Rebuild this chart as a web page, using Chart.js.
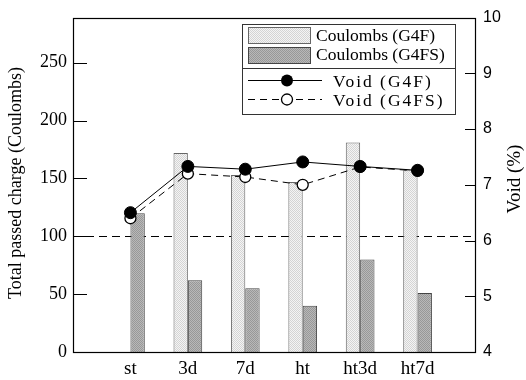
<!DOCTYPE html>
<html>
<head>
<meta charset="utf-8">
<script src="https://cdn.jsdelivr.net/npm/chart.js@4/dist/chart.umd.min.js"></script>
<style>
  html, body { margin: 0; padding: 0; background: #fff; }
  #wrap { width: 526px; height: 380px; position: relative; }
</style>
</head>
<body>
<div id="wrap"><canvas id="c" width="526" height="380"></canvas></div>
<script>
// Mixes: passed charge (bars, left axis) and void content (lines, right axis)
const categories = ['', 'st', '3d', '7d', 'ht', 'ht3d', 'ht7d', ''];
const coulombsG4F = [null, null, 172, 153, 147, 181, 157, null];
const coulombsG4FS = [null, 120, 62, 55, 40, 80, 51, null];
const voidG4F = [null, 6.5, 7.33, 7.28, 7.41, 7.33, 7.26, null];
const voidG4FS = [null, 6.4, 7.2, 7.14, 7.0, 7.32, 7.25, null];
const chargeTicks = [0, 50, 100, 150, 200, 250];
const voidTicks = [4, 5, 6, 7, 8, 9, 10];
const chargeMax = 289;
const referenceCharge = 100;

const SERIF = '"Liberation Serif", "Times New Roman", serif';
const SANS = '"Liberation Sans", Arial, sans-serif';

function makePattern(base, dot) {
  const p = document.createElement('canvas');
  p.width = 2; p.height = 2;
  const g = p.getContext('2d');
  g.fillStyle = base; g.fillRect(0, 0, 2, 2);
  g.fillStyle = dot; g.fillRect(0, 0, 1, 1); g.fillRect(1, 1, 1, 1);
  return document.getElementById('c').getContext('2d').createPattern(p, 'repeat');
}
const lightFill = makePattern('#f4f4f4', '#d4d4d4');
const darkFill = makePattern('#b8b8b8', '#989898');

// Frame, inward tick marks, reference line and axis titles
const decorations = {
  id: 'decorations',
  beforeDatasetsDraw(chart) {
    const { ctx, chartArea: a, scales } = chart;
    ctx.save();
    const y100 = Math.round(scales.y.getPixelForValue(referenceCharge)) + 0.5;
    ctx.strokeStyle = '#000';
    ctx.lineWidth = 1;
    ctx.setLineDash([8, 5]);
    ctx.beginPath(); ctx.moveTo(a.left, y100); ctx.lineTo(a.right, y100); ctx.stroke();
    ctx.restore();
  },
  afterDraw(chart) {
    const { ctx, chartArea: a, scales } = chart;
    ctx.save();
    ctx.strokeStyle = '#000';
    ctx.lineWidth = 1.2;
    ctx.strokeRect(Math.round(a.left) + 0.5, Math.round(a.top) + 0.5,
                   Math.round(a.right - a.left), Math.round(a.bottom - a.top));
    ctx.beginPath();
    chargeTicks.forEach(v => {
      const y = Math.round(scales.y.getPixelForValue(v)) + 0.5;
      ctx.moveTo(a.left, y); ctx.lineTo(a.left + 14, y);
    });
    voidTicks.forEach(v => {
      const y = Math.round(scales.yR.getPixelForValue(v)) + 0.5;
      ctx.moveTo(a.right, y); ctx.lineTo(a.right - 10, y);
    });
    ctx.stroke();

    ctx.fillStyle = '#000';
    ctx.textAlign = 'center';
    ctx.textBaseline = 'middle';
    ctx.font = '18px ' + SERIF;
    ctx.save();
    ctx.translate(16, 183); ctx.rotate(-Math.PI / 2);
    ctx.fillText('Total passed charge (Coulombs)', 0, 0);
    ctx.restore();
    ctx.save();
    ctx.font = '19px ' + SERIF;
    ctx.translate(515, 179); ctx.rotate(-Math.PI / 2);
    ctx.fillText('Void (%)', 0, 0);
    ctx.restore();

    // legend box
    const L = 242, T = 24, R = 455, B = 114, mid = 68;
    ctx.fillStyle = '#fff';
    ctx.fillRect(L, T, R - L, B - T);
    ctx.strokeStyle = '#333';
    ctx.lineWidth = 1;
    ctx.strokeRect(L + 0.5, T + 0.5, R - L, B - T);
    ctx.beginPath(); ctx.moveTo(L, mid + 0.5); ctx.lineTo(R, mid + 0.5); ctx.stroke();

    ctx.fillStyle = lightFill; ctx.fillRect(248, 27, 62, 16);
    ctx.strokeStyle = '#666'; ctx.strokeRect(248.5, 27.5, 62, 16);
    ctx.fillStyle = darkFill; ctx.fillRect(248, 47, 62, 16);
    ctx.strokeStyle = '#444'; ctx.strokeRect(248.5, 47.5, 62, 16);

    ctx.fillStyle = '#000';
    ctx.textAlign = 'left';
    ctx.textBaseline = 'alphabetic';
    ctx.font = '17.5px ' + SERIF;
    ctx.fillText('Coulombs (G4F)', 316, 41);
    ctx.fillText('Coulombs (G4FS)', 316, 60);

    ctx.strokeStyle = '#000';
    ctx.lineWidth = 1;
    ctx.beginPath(); ctx.moveTo(248, 80.5); ctx.lineTo(322, 80.5); ctx.stroke();
    ctx.beginPath(); ctx.arc(287, 80.5, 6, 0, Math.PI * 2); ctx.fillStyle = '#000'; ctx.fill();

    ctx.setLineDash([7, 5]);
    ctx.beginPath(); ctx.moveTo(248, 99.5); ctx.lineTo(322, 99.5); ctx.stroke();
    ctx.setLineDash([]);
    ctx.beginPath(); ctx.arc(287, 99.5, 5.5, 0, Math.PI * 2);
    ctx.fillStyle = '#fff'; ctx.fill(); ctx.lineWidth = 1.3; ctx.stroke();

    ctx.fillStyle = '#000';
    ctx.letterSpacing = '2px';
    ctx.fillText('Void (G4F)', 333, 87);
    ctx.fillText('Void (G4FS)', 333, 106);
    ctx.restore();
  }
};

new Chart(document.getElementById('c'), {
  data: {
    labels: categories,
    datasets: [
      {
        type: 'line', label: 'Void (G4F)', data: voidG4F, yAxisID: 'yR', order: 1,
        borderColor: '#000', borderWidth: 1, tension: 0,
        pointRadius: 6, pointBackgroundColor: '#000', pointBorderColor: '#000', pointBorderWidth: 1
      },
      {
        type: 'line', label: 'Void (G4FS)', data: voidG4FS, yAxisID: 'yR', order: 2,
        borderColor: '#000', borderWidth: 1, borderDash: [7, 5], tension: 0,
        pointRadius: 5.5, pointBackgroundColor: '#fff', pointBorderColor: '#000', pointBorderWidth: 1.3
      },
      {
        type: 'bar', label: 'Coulombs (G4F)', data: coulombsG4F, yAxisID: 'y', order: 3,
        backgroundColor: lightFill, borderColor: '#666', borderWidth: 1,
        categoryPercentage: 0.5, barPercentage: 1.0
      },
      {
        type: 'bar', label: 'Coulombs (G4FS)', data: coulombsG4FS, yAxisID: 'y', order: 3,
        backgroundColor: darkFill, borderColor: '#444', borderWidth: 1,
        categoryPercentage: 0.5, barPercentage: 1.0
      }
    ]
  },
  options: {
    responsive: false,
    animation: false,
    events: [],
    layout: { padding: { top: 12, left: 0, right: 0, bottom: 0 } },
    plugins: { legend: { display: false }, tooltip: { enabled: false } },
    scales: {
      x: {
        type: 'category',
        offset: false,
        grid: { display: false, drawTicks: false },
        border: { display: false },
        ticks: { color: '#000', font: { family: SERIF, size: 19 }, padding: 6,
                 autoSkip: false, maxRotation: 0, minRotation: 0 },
        afterFit(s) { s.height = 28; }
      },
      y: {
        position: 'left',
        min: 0, max: chargeMax,
        grid: { display: false, drawTicks: false },
        border: { display: false },
        afterBuildTicks(s) { s.ticks = chargeTicks.map(v => ({ value: v })); },
        ticks: { color: '#000', font: { family: SERIF, size: 18 }, padding: 6 },
        afterFit(s) { s.width = 73; }
      },
      yR: {
        position: 'right',
        min: 4, max: 10,
        grid: { display: false, drawTicks: false },
        border: { display: false },
        afterBuildTicks(s) { s.ticks = voidTicks.map(v => ({ value: v })); },
        ticks: { color: '#000', font: { family: SANS, size: 16 }, padding: 8 },
        afterFit(s) { s.width = 51; }
      }
    }
  },
  plugins: [decorations]
});
</script>
</body>
</html>
